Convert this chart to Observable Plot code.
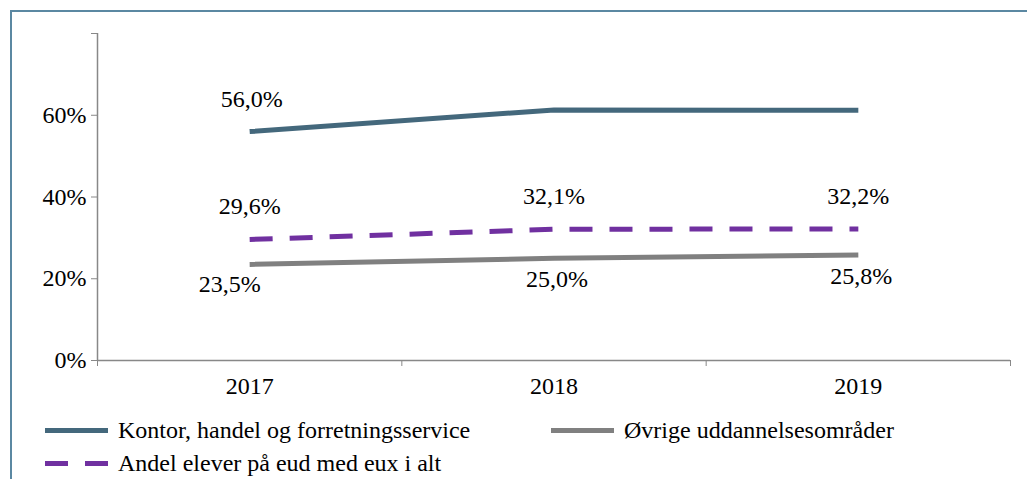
<!DOCTYPE html>
<html>
<head>
<meta charset="utf-8">
<script src="https://cdn.jsdelivr.net/npm/d3@7"></script>
<script src="https://cdn.jsdelivr.net/npm/@observablehq/plot@0.6"></script>
<style>
  html, body { margin: 0; padding: 0; background: #fff; }
  body { width: 1027px; height: 479px; position: relative; overflow: hidden; font-family: 'Liberation Serif'; }
  #frame { position: absolute; left: 10px; top: 10px; width: 1040px; height: 500px; border: 2px solid #5b88a2; box-sizing: border-box; }
  #chart { position: absolute; left: 0; top: 0; }
  .legend { position: absolute; font-family: 'Liberation Serif'; font-size: 24px; color: #000; white-space: nowrap; display: flex; align-items: center; line-height: 1; }
  .sw { width: 63px; height: 5px; margin-right: 10px; display: inline-block; }
</style>
</head>
<body>
<div id="frame"></div>
<div id="chart"></div>
<div class="legend" style="left:45px; top:418px; font-family:'Liberation Serif';"><span class="sw" style="background:#44687c;"></span>Kontor, handel og forretningsservice</div>
<div class="legend" style="left:551px; top:418px; font-family:'Liberation Serif';"><span class="sw" style="background:#808080;"></span>Øvrige uddannelsesområder</div>
<div class="legend" style="left:45px; top:451px; font-family:'Liberation Serif';"><span class="sw" style="background:repeating-linear-gradient(90deg,#7030a0 0 23px,transparent 23px 40px);"></span>Andel elever på eud med eux i alt</div>
<script>
const years = [2017, 2018, 2019];
const kontor = [56.0, 61.3, 61.2];
const ovrige = [23.5, 25.0, 25.8];
const andel = [29.6, 32.1, 32.2];
const yTicks = [0, 20, 40, 60, 80];
const kontorLabelYears = [2017];

const series = [
  {name: "Kontor, handel og forretningsservice", values: kontor, color: "#44687c", dash: null},
  {name: "Øvrige uddannelsesområder", values: ovrige, color: "#808080", dash: null},
  {name: "Andel elever på eud med eux i alt", values: andel, color: "#7030a0", dash: "23,17"}
];
const rows = series.flatMap(s => years.map((yr, i) => ({series: s.name, year: yr, value: s.values[i]})));
const fmt = v => v.toFixed(1).replace(".", ",") + "%";
const bounds = years.map(y => y - 0.5).concat([years[years.length - 1] + 0.5]);

const kontorRows = rows.filter(d => d.series === series[0].name);
const ovrigeRows = rows.filter(d => d.series === series[1].name);
const andelRows = rows.filter(d => d.series === series[2].name);

const chart = Plot.plot({
  width: 1027,
  height: 405,
  marginLeft: 97,
  marginRight: 17,
  marginTop: 33,
  marginBottom: 45,
  style: {fontFamily: "'Liberation Serif'", fontSize: "24px", color: "#000", background: "transparent"},
  x: {type: "linear", domain: [bounds[0], bounds[bounds.length - 1]]},
  y: {domain: [0, 80]},
  marks: [
    Plot.axisY({ticks: yTicks, tickSize: 6, tickPadding: 5, stroke: "#888", tickFormat: d => d === 80 ? "" : d + "%", fill: "#000", label: null}),
    Plot.axisX({ticks: bounds, tickSize: 6, tickFormat: () => "", stroke: "#888", label: null}),
    Plot.axisX({ticks: years, tickSize: 0, tickPadding: 16, tickFormat: d => String(d), fill: "#000", label: null}),
    Plot.ruleX([bounds[0]], {stroke: "#888", strokeWidth: 1.5}),
    Plot.ruleY([0], {stroke: "#888", strokeWidth: 1.5}),
    ...series.map(s => Plot.line(rows.filter(d => d.series === s.name), {
      x: "year", y: "value", stroke: s.color, strokeWidth: 5, strokeDasharray: s.dash, strokeLinecap: "butt", strokeLinejoin: "round"
    })),
    Plot.text(kontorRows.filter(d => kontorLabelYears.includes(d.year)), {x: "year", y: "value", text: d => fmt(d.value), dx: 2, dy: -32, fill: "#000"}),
    Plot.text(andelRows, {x: "year", y: "value", text: d => fmt(d.value), dx: 0, dy: -33, fill: "#000"}),
    Plot.text(ovrigeRows.filter(d => d.year === years[0]), {x: "year", y: "value", text: d => fmt(d.value), dx: -20, dy: 20, fill: "#000"}),
    Plot.text(ovrigeRows.filter(d => d.year !== years[0]), {x: "year", y: "value", text: d => fmt(d.value), dx: 3, dy: 21, fill: "#000"})
  ]
});
document.getElementById("chart").appendChild(chart);

function applyFont() {
  chart.setAttribute("font-family", "Liberation Serif");
  chart.style.setProperty("font-family", "'Liberation Serif'", "important");
  document.querySelectorAll("svg text, svg g, .legend").forEach(el => {
    el.setAttribute("font-family", "Liberation Serif");
    el.style.setProperty("font-family", "'Liberation Serif'", "important");
  });
}
applyFont();
requestAnimationFrame(applyFont);
setTimeout(applyFont, 50);
</script>
</body>
</html>
